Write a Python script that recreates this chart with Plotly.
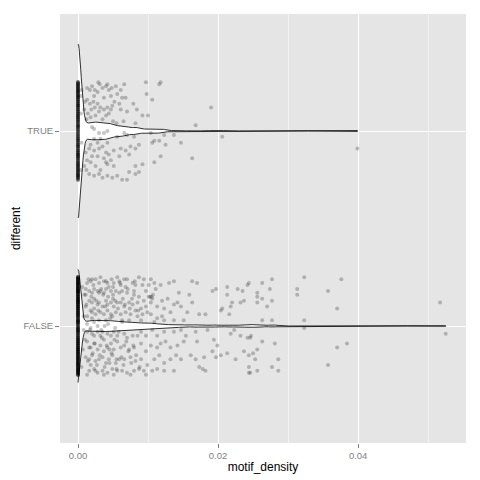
import numpy as np
import plotly.graph_objects as go

# ---------------- data ----------------
CATEGORIES = ["FALSE", "TRUE"]          # y positions 1, 2
X_TICKS = [0.0, 0.02, 0.04]
X_TICK_LABELS = ["0.00", "0.02", "0.04"]

# jitter offsets (category units) of the observations with motif_density == 0
ZERO_DY_TRUE = [
    0.12,-0.05,0.23,-0.18,0.02,0.17,-0.22,0.08,-0.11,0.25,-0.02,0.14,-0.24,0.05,0.19,-0.08,0.21,-0.15,0.01,-0.20,
    0.10,-0.13,0.24,-0.04,0.16,-0.19,0.06,-0.23,0.13,-0.07,0.22,-0.10,0.03,-0.16,0.18,-0.01,0.09,-0.21,0.15,-0.12,
    0.20,-0.06,0.04,-0.17,0.11,-0.25,0.07,-0.09,0.24,-0.14,0.00,0.18,-0.03,0.13,-0.22,0.21,-0.11,0.06,-0.19,0.16,
    -0.05,0.10,-0.24,0.02,0.23,-0.16,0.08,-0.08,0.19,-0.13,0.14,-0.01,0.25,-0.20,0.05,-0.10,0.17,-0.23,0.11,-0.04,
    0.22,-0.18,0.03,-0.12,0.15,-0.07,0.20,-0.15,0.07,-0.21,0.12,-0.02,0.24,-0.09,0.01,-0.17,0.18,-0.14,0.09,-0.25,
    0.16,-0.06,0.04,-0.19,0.21,-0.11,0.13,-0.03,0.06,-0.22,0.19,-0.08,0.10,-0.16,0.23,-0.13,0.02,-0.20,0.14,-0.05,
    0.08,-0.24,0.17,-0.10,0.05,-0.18,0.22,-0.01,0.11,-0.14,0.20,-0.07,0.00,-0.21,0.15,-0.12,0.07,-0.23,0.25,-0.04,
    -0.17,0.09,0.21,-0.06,0.14,-0.23,0.03,0.18,-0.12,0.25,-0.09,0.01,0.16,-0.20,0.11,-0.02,0.23,-0.15,0.07,-0.24,
    0.19,-0.08,0.12,-0.18,0.04,0.22,-0.13,0.08,-0.03,0.17,-0.21,0.13,-0.07,0.24,-0.16,0.02,0.20,-0.11,0.06,-0.25,
    0.15,-0.04,0.10,-0.22,0.18,-0.14,0.05,0.21,-0.10,0.00,0.13,-0.19,0.24,-0.05,0.09,-0.17,0.20,-0.12,0.03,-0.23,
]
ZERO_DY_FALSE = [
    -0.14,0.21,0.03,-0.22,0.17,-0.06,0.10,-0.19,0.24,-0.01,0.13,-0.25,0.07,0.19,-0.11,0.02,-0.17,0.22,-0.08,0.15,
    -0.03,0.09,-0.21,0.18,-0.13,0.05,0.25,-0.16,0.11,-0.24,0.01,0.20,-0.09,0.14,-0.18,0.06,-0.02,0.23,-0.12,0.08,
    0.16,-0.20,0.04,-0.07,0.21,-0.15,0.12,-0.23,0.00,0.18,-0.10,0.24,-0.05,0.09,-0.19,0.13,-0.01,0.17,-0.24,0.07,
    -0.12,0.22,-0.04,0.11,-0.17,0.02,0.19,-0.22,0.14,-0.08,0.25,-0.14,0.05,-0.20,0.10,-0.03,0.23,-0.11,0.16,-0.25,
    0.01,-0.18,0.20,-0.06,0.08,-0.21,0.15,-0.09,0.24,-0.13,0.03,0.12,-0.23,0.18,-0.02,0.06,-0.16,0.21,-0.10,0.13,
    -0.19,0.04,0.17,-0.12,0.25,-0.05,0.09,-0.24,0.14,-0.15,0.02,0.22,-0.07,0.11,-0.20,0.19,-0.03,0.07,-0.14,0.23,
    0.10,-0.22,0.16,-0.01,0.05,-0.17,0.21,-0.11,0.12,-0.25,0.18,-0.06,0.00,0.24,-0.09,0.15,-0.18,0.03,-0.13,0.20,
    -0.08,0.13,-0.23,0.06,0.19,-0.15,0.01,-0.20,0.22,-0.04,0.09,-0.12,0.25,-0.16,0.11,-0.02,0.17,-0.21,0.04,-0.10,
    0.14,-0.07,0.23,-0.19,0.08,-0.24,0.16,-0.03,0.12,-0.14,0.20,-0.09,0.02,-0.22,0.18,-0.05,0.10,-0.17,0.24,-0.11,
    0.06,-0.13,0.21,-0.25,0.03,0.15,-0.08,0.19,-0.18,0.07,-0.01,0.22,-0.15,0.13,-0.23,0.09,-0.06,0.25,-0.12,0.00,
    -0.21,0.17,-0.04,0.11,-0.16,0.24,-0.10,0.05,-0.19,0.14,0.02,-0.23,0.20,-0.07,0.08,-0.14,0.18,-0.02,0.12,-0.24,
    0.19,-0.11,0.04,-0.20,0.23,-0.05,0.13,-0.17,0.07,-0.22,0.16,-0.09,0.01,0.21,-0.13,0.10,-0.25,0.15,-0.03,0.06,
    -0.16,0.22,-0.08,0.12,-0.24,0.03,0.18,-0.12,0.25,-0.06,0.09,-0.19,0.14,-0.01,0.20,-0.15,0.05,-0.21,0.11,-0.10,
    0.17,-0.02,0.08,-0.23,0.13,-0.18,0.24,-0.07,0.02,-0.14,0.19,-0.11,0.06,-0.20,0.15,-0.04,0.22,-0.16,0.10,-0.09,
]

# non-zero observations: motif_density and jitter offset
X_TRUE = [
    0.0013,0.0017,0.0020,0.0024,0.0029,0.0031,0.0028,0.0035,0.0040,0.0042,
    0.0044,0.0048,0.0054,0.0061,0.0066,0.0063,0.0068,0.0097,0.0116,0.0118,
    0.0098,0.0106,0.0079,0.0084,0.0190,0.0010,0.0013,0.0017,0.0022,0.0024,
    0.0028,0.0032,0.0037,0.0042,0.0047,0.0049,0.0052,0.0059,0.0061,0.0070,
    0.0009,0.0014,0.0019,0.0025,0.0030,0.0035,0.0040,0.0044,0.0050,0.0055,
    0.0065,0.0082,0.0092,0.0100,0.0168,0.0012,0.0018,0.0004,0.0047,0.0037,
    0.0023,0.0056,
    0.0066,0.0080,0.0056,0.0070,0.0109,0.0106,0.0116,0.0125,0.0147,0.0137,
    0.0123,0.0104,0.0118,0.0163,0.0109,0.0092,0.0082,0.0087,0.0073,0.0063,
    0.0070,0.0082,0.0056,0.0049,0.0042,0.0035,0.0030,0.0023,0.0016,0.0012,
    0.0009,0.0018,0.0025,0.0032,0.0040,0.0042,0.0051,0.0047,0.0037,0.0028,
    0.0020,0.0023,0.0016,0.0011,0.0030,0.0035,0.0042,0.0040,0.0044,0.0051,
    0.0061,0.0068,0.0075,0.0082,0.0087,0.0073,0.0059,0.0023,0.0028,0.0032,
    0.0018,0.0013,
    0.0206,0.0399,0.0023,0.0037,0.0020,0.0042,0.0030,0.0004,0.0005,0.0004,0.0005,
]
DY_TRUE = [
    0.22,0.21,0.23,0.21,0.25,0.24,0.20,0.22,0.23,0.24,
    0.21,0.22,0.23,0.21,0.24,0.17,0.17,0.25,0.24,0.25,
    0.19,0.16,0.14,0.11,0.12,0.15,0.16,0.14,0.15,0.12,
    0.14,0.12,0.11,0.12,0.11,0.13,0.15,0.14,0.11,0.10,
    0.11,0.09,0.11,0.08,0.10,0.06,0.08,0.09,0.05,0.04,
    0.05,0.04,0.08,0.08,0.03,0.06,0.07,0.18,0.18,0.17,
    0.18,0.19,
    -0.01,-0.03,-0.03,-0.02,-0.05,-0.06,-0.05,-0.07,-0.06,-0.02,
    -0.02,-0.01,-0.13,-0.14,-0.16,-0.17,-0.18,-0.21,-0.21,-0.25,
    -0.25,-0.22,-0.23,-0.24,-0.23,-0.24,-0.22,-0.23,-0.22,-0.20,
    -0.18,-0.16,-0.18,-0.20,-0.16,-0.17,-0.18,-0.15,-0.14,-0.13,
    -0.13,-0.10,-0.09,-0.11,-0.09,-0.08,-0.06,-0.11,-0.12,-0.10,
    -0.09,-0.10,-0.08,-0.09,-0.07,-0.12,-0.13,-0.04,-0.06,-0.04,
    -0.07,-0.15,
    -0.03,-0.09,0.01,-0.01,0.02,0.00,-0.01,0.09,-0.06,-0.20,0.21,
]

X_FALSE = [
    0.0013,0.0018,0.0020,0.0025,0.0030,0.0032,0.0037,0.0042,0.0044,0.0048,
    0.0051,0.0056,0.0059,0.0061,0.0066,0.0068,0.0070,0.0078,0.0082,0.0016,
    0.0020,0.0023,0.0028,0.0032,0.0037,0.0040,0.0047,0.0050,0.0054,0.0059,
    0.0063,0.0070,0.0080,0.0087,0.0011,0.0016,0.0020,0.0023,0.0028,0.0030,
    0.0035,0.0040,0.0042,0.0047,0.0051,0.0056,0.0061,0.0066,0.0073,0.0078,
    0.0085,0.0090,0.0094,0.0011,0.0018,0.0023,0.0025,0.0032,0.0037,0.0042,
    0.0047,0.0054,0.0061,0.0068,0.0075,0.0082,0.0092,0.0099,0.0013,0.0020,
    0.0030,0.0040,0.0049,0.0063,0.0073,0.0085,0.0094,0.0097,0.0104,0.0109,
    0.0111,0.0092,0.0101,0.0106,0.0104,0.0113,0.0120,0.0123,0.0128,0.0132,
    0.0137,0.0142,0.0147,0.0151,0.0159,0.0163,0.0170,0.0163,0.0173,0.0182,
    0.0192,0.0197,0.0204,0.0206,0.0213,0.0213,0.0216,0.0220,0.0228,0.0232,
    0.0237,0.0242,0.0244,0.0235,0.0218,0.0120,0.0123,0.0113,0.0109,0.0137,
    0.0104,0.0090,0.0118,0.0130,0.0137,0.0144,0.0156,0.0097,0.0080,0.0087,
    0.0101,0.0103,0.0105,0.0107,
    0.0013,0.0020,0.0023,0.0028,0.0032,0.0037,0.0042,0.0047,0.0051,0.0056,
    0.0066,0.0070,0.0078,0.0085,0.0090,0.0097,0.0106,0.0113,0.0123,0.0137,
    0.0147,0.0154,0.0168,0.0185,0.0013,0.0018,0.0023,0.0028,0.0032,0.0037,
    0.0042,0.0047,0.0051,0.0056,0.0061,0.0066,0.0073,0.0080,0.0090,0.0097,
    0.0104,0.0113,0.0118,0.0125,0.0132,0.0142,0.0151,0.0170,0.0194,0.0199,
    0.0218,0.0223,0.0232,0.0242,0.0011,0.0016,0.0020,0.0025,0.0030,0.0035,
    0.0040,0.0044,0.0049,0.0054,0.0059,0.0066,0.0075,0.0082,0.0090,0.0099,
    0.0109,0.0116,0.0123,0.0132,0.0140,0.0147,0.0161,0.0168,0.0180,0.0192,
    0.0197,0.0204,0.0213,0.0225,0.0237,0.0247,0.0244,0.0016,0.0023,0.0028,
    0.0035,0.0042,0.0049,0.0056,0.0063,0.0070,0.0080,0.0087,0.0094,0.0106,
    0.0113,0.0123,0.0137,0.0173,0.0178,0.0182,0.0244,0.0244,0.0018,0.0013,
    0.0037,0.0051,0.0075,0.0097,
    0.0263,0.0277,0.0274,0.0256,0.0256,0.0263,0.0277,0.0256,0.0270,0.0323,
    0.0313,0.0313,0.0357,0.0376,0.0370,0.0263,0.0277,0.0323,0.0323,0.0517,
    0.0525,0.0246,0.0263,0.0281,0.0256,0.0250,0.0286,0.0253,0.0370,0.0384,
    0.0357,0.0277,0.0256,0.0286,0.0246,
    0.0006,0.0007,0.0008,0.0005,0.0009,0.0010,0.0012,0.0014,0.0015,0.0017,
    0.0019,0.0021,0.0022,0.0024,0.0026,0.0027,0.0029,0.0031,0.0033,0.0034,
    0.0036,0.0038,0.0039,0.0041,0.0043,0.0045,0.0046,0.0048,0.0050,0.0052,
    0.0053,0.0055,0.0057,0.0058,0.0060,0.0062,0.0064,0.0065,0.0067,0.0069,
    0.0071,0.0072,0.0074,0.0076,0.0077,0.0079,0.0081,0.0083,0.0086,0.0088,
    0.0011,0.0016,0.0020,0.0025,0.0030,0.0035,0.0040,0.0045,0.0050,0.0055,
    0.0013,0.0018,0.0023,0.0028,0.0033,0.0043,0.0053,0.0063,0.0008,0.0038,
]
DY_FALSE = [
    0.22,0.23,0.24,0.24,0.22,0.25,0.23,0.22,0.20,0.24,
    0.22,0.25,0.23,0.21,0.24,0.20,0.24,0.22,0.21,0.18,
    0.17,0.19,0.18,0.18,0.17,0.19,0.18,0.16,0.18,0.17,
    0.18,0.17,0.16,0.15,0.16,0.13,0.12,0.14,0.11,0.12,
    0.10,0.13,0.11,0.12,0.10,0.12,0.12,0.10,0.12,0.11,
    0.12,0.09,0.13,0.10,0.08,0.09,0.06,0.07,0.06,0.08,
    0.06,0.07,0.06,0.07,0.06,0.08,0.06,0.07,0.05,0.04,
    0.03,0.03,0.05,0.03,0.03,0.05,0.24,0.18,0.24,0.22,
    0.19,0.21,0.15,0.14,0.12,0.10,0.13,0.09,0.14,0.07,
    0.11,0.12,0.10,0.03,0.16,0.23,0.22,0.12,0.06,0.06,
    0.18,0.19,0.08,0.09,0.20,0.16,0.06,0.12,0.19,0.12,
    0.13,0.21,0.22,0.18,0.10,0.05,0.03,0.04,0.02,0.03,
    0.06,0.03,0.21,0.22,0.23,0.17,0.07,0.10,0.18,0.25,
    0.21,0.15,0.15,0.16,
    -0.03,-0.04,-0.05,-0.03,-0.05,-0.07,-0.04,-0.05,-0.03,-0.05,
    -0.04,-0.06,-0.05,-0.05,-0.03,-0.05,-0.02,-0.05,-0.03,-0.03,
    -0.02,-0.05,-0.03,-0.02,-0.08,-0.11,-0.09,-0.12,-0.10,-0.13,
    -0.11,-0.09,-0.12,-0.08,-0.11,-0.10,-0.12,-0.11,-0.09,-0.13,
    -0.10,-0.11,-0.09,-0.08,-0.11,-0.10,-0.08,-0.08,-0.07,-0.10,
    -0.04,-0.02,-0.05,-0.06,-0.16,-0.17,-0.15,-0.18,-0.17,-0.16,
    -0.19,-0.17,-0.15,-0.19,-0.17,-0.17,-0.16,-0.18,-0.17,-0.20,
    -0.17,-0.15,-0.19,-0.17,-0.15,-0.17,-0.15,-0.17,-0.16,-0.13,
    -0.16,-0.15,-0.14,-0.17,-0.13,-0.05,-0.15,-0.23,-0.22,-0.24,
    -0.23,-0.24,-0.22,-0.23,-0.23,-0.24,-0.23,-0.22,-0.23,-0.23,
    -0.22,-0.23,-0.23,-0.21,-0.22,-0.23,-0.21,-0.24,-0.20,-0.25,
    -0.25,-0.25,-0.25,-0.25,
    0.22,0.24,0.19,0.17,0.15,0.14,0.13,0.12,0.10,0.25,
    0.19,0.16,0.18,0.24,0.09,0.03,0.03,0.03,-0.01,0.12,
    -0.04,-0.06,-0.08,-0.09,-0.12,-0.14,-0.17,-0.17,-0.11,-0.09,
    -0.20,-0.21,-0.23,-0.23,-0.24,
    0.20,-0.12,0.05,-0.21,0.16,-0.07,0.11,-0.18,0.24,-0.02,
    0.15,-0.14,0.21,-0.09,0.13,-0.20,0.08,-0.15,0.19,-0.06,
    0.16,-0.21,0.10,-0.10,0.15,-0.19,0.04,-0.14,0.20,-0.07,
    0.13,-0.22,0.09,-0.03,0.22,-0.16,0.14,-0.20,0.11,-0.08,
    0.19,-0.13,0.09,-0.19,0.14,-0.10,0.23,-0.15,0.08,-0.21,
    0.19,-0.11,0.07,-0.23,0.17,-0.03,0.23,-0.12,0.14,-0.17,
    0.01,-0.01,0.02,0.00,-0.02,0.01,-0.01,0.02,-0.02,0.00,
]

# ---------------- style ----------------
BANDWIDTH = {"TRUE": 0.00045, "FALSE": 0.00038}   # kernel bandwidth per group
VIOLIN_HALF = {"TRUE": 0.446, "FALSE": 0.29}        # max half-width per group
PANEL_BG = "#E5E5E5"
FONT = "Liberation Sans, Arial, Helvetica, sans-serif"

groups = {
    "TRUE": (np.array([0.0] * len(ZERO_DY_TRUE) + X_TRUE),
             np.array(ZERO_DY_TRUE + DY_TRUE)),
    "FALSE": (np.array([0.0] * len(ZERO_DY_FALSE) + X_FALSE),
              np.array(ZERO_DY_FALSE + DY_FALSE)),
}
assert len(X_TRUE) == len(DY_TRUE), (len(X_TRUE), len(DY_TRUE))
assert len(X_FALSE) == len(DY_FALSE), (len(X_FALSE), len(DY_FALSE))


def density(vals, bw, n=512):
    grid = np.linspace(vals.min(), vals.max(), n)
    z = (grid[:, None] - vals[None, :]) / bw
    d = np.exp(-0.5 * z ** 2).sum(axis=1) / (len(vals) * bw * np.sqrt(2 * np.pi))
    return grid, d


fig = go.Figure()
for g in ["FALSE", "TRUE"]:
    center = CATEGORIES.index(g) + 1
    grid, d = density(groups[g][0], BANDWIDTH[g])
    half = d / d.max() * VIOLIN_HALF[g]
    xs = np.concatenate([grid, grid[::-1]])
    ys = np.concatenate([center + half, (center - half)[::-1]])
    fig.add_trace(go.Scatter(x=xs, y=ys, mode="lines", fill="toself",
                             fillcolor="white", line=dict(color="black", width=0.8),
                             hoverinfo="skip", showlegend=False))

for g in ["FALSE", "TRUE"]:
    center = CATEGORIES.index(g) + 1
    xv, dy = groups[g]
    fig.add_trace(go.Scatter(x=xv, y=center + dy, mode="markers",
                             marker=dict(size=4, color="rgba(0,0,0,0.23)", line=dict(width=0)),
                             showlegend=False, hoverinfo="skip"))

# the page body has an 8px margin, so the margins are shifted by that amount
fig.update_layout(
    width=480, height=480,
    margin=dict(l=52, r=22, t=6, b=45, autoexpand=False),
    paper_bgcolor="white", plot_bgcolor=PANEL_BG,
    font=dict(family=FONT, size=12, color="black"),
    showlegend=False,
)
fig.update_xaxes(
    range=[-0.00257, 0.0554], automargin=False,
    tickvals=X_TICKS, ticktext=X_TICK_LABELS,
    ticks="outside", ticklen=4, tickwidth=1, tickcolor="#7F7F7F",
    tickfont=dict(size=9.5, color="#7F7F7F"),
    showgrid=True, gridcolor="white", gridwidth=1.1,
    minor=dict(tickvals=[0.01, 0.03, 0.05], showgrid=True, gridcolor="#F2F2F2", gridwidth=0.6, ticks=""),
    zeroline=False, showline=False,
    title=dict(text="motif_density", font=dict(size=12, color="black"), standoff=2),
)
fig.update_yaxes(
    range=[0.4, 2.6], automargin=False,
    tickvals=[1, 2], ticktext=CATEGORIES,
    ticks="outside", ticklen=4, tickwidth=1, tickcolor="#7F7F7F",
    tickfont=dict(size=9.5, color="#7F7F7F"),
    showgrid=True, gridcolor="white", gridwidth=1.1,
    zeroline=False, showline=False,
    title=dict(text="different", font=dict(size=12, color="black"), standoff=0),
)

fig.write_html("out.html")
